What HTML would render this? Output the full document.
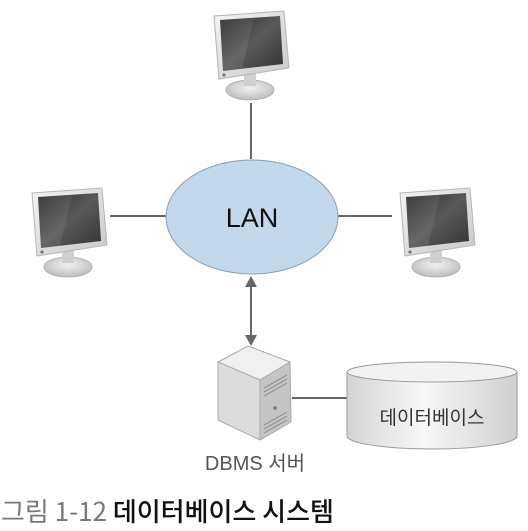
<!DOCTYPE html>
<html><head><meta charset="utf-8"><style>
html,body{margin:0;padding:0;background:#fff;}
svg{display:block}
</style></head><body>
<svg width="528" height="531" viewBox="0 0 528 531" xmlns="http://www.w3.org/2000/svg">
<defs>
<linearGradient id="scr" x1="0" y1="0" x2="1" y2="1">
<stop offset="0" stop-color="#2a2a2a"/><stop offset="0.5" stop-color="#5a5a5a"/><stop offset="1" stop-color="#333"/>
</linearGradient>
<linearGradient id="frm" x1="0" y1="0" x2="1" y2="1">
<stop offset="0" stop-color="#f4f4f4"/><stop offset="1" stop-color="#c8c8c8"/>
</linearGradient>
<radialGradient id="base" cx="0.5" cy="0.4" r="0.6">
<stop offset="0" stop-color="#f2f2f2"/><stop offset="1" stop-color="#bdbdbd"/>
</radialGradient>
<linearGradient id="cyl" x1="0" y1="0" x2="1" y2="0">
<stop offset="0" stop-color="#d4d4d4"/><stop offset="0.45" stop-color="#f8f8f8"/><stop offset="1" stop-color="#cfcfcf"/>
</linearGradient>
<g id="mon">
<ellipse cx="36" cy="80" rx="24" ry="10" fill="url(#base)" stroke="#aaa" stroke-width="0.8"/>
<rect x="30" y="64" width="12" height="12" fill="#d0d0d0"/>
<polygon points="0,6 70,1 75,58 5,69" fill="url(#frm)" stroke="#b5b5b5" stroke-width="1"/>
<polygon points="6,10 66,6 69,54 9,61" fill="url(#scr)"/>
<polygon points="6,10 40,8 28,59 9,61" fill="#fff" opacity="0.08"/>
<circle cx="10" cy="65" r="1.6" fill="#777"/>
</g>
</defs>

<line x1="251" y1="103" x2="251" y2="159" stroke="#666" stroke-width="2"/>
<line x1="110" y1="216" x2="166" y2="216" stroke="#666" stroke-width="2"/>
<line x1="338" y1="216" x2="392" y2="216" stroke="#666" stroke-width="2"/>
<line x1="251" y1="284" x2="251" y2="338" stroke="#666" stroke-width="2"/>
<polygon points="251,276 245,287 257,287" fill="#666"/>
<polygon points="251,346 245,335 257,335" fill="#666"/>
<line x1="292" y1="398" x2="348" y2="398" stroke="#666" stroke-width="2"/>

<ellipse cx="252" cy="217" rx="86" ry="57" fill="#c3d8ea" stroke="#8aa0b3" stroke-width="1"/>
<text x="252" y="227" text-anchor="middle" font-family="Liberation Sans, sans-serif" font-size="27" fill="#111">LAN</text>

<use href="#mon" x="214" y="10"/>
<use href="#mon" x="32" y="187"/>
<use href="#mon" x="400" y="187"/>

<polygon points="218,362 248,346 290,362 260,380" fill="#f0f0f0" stroke="#aaa"/>
<polygon points="218,362 260,380 260,440 218,420" fill="#dcdcdc" stroke="#aaa"/>
<polygon points="260,380 290,362 291,422 260,440" fill="#c4c4c4" stroke="#aaa"/>
<g stroke="#888" stroke-width="1">
<line x1="264" y1="388" x2="287" y2="375"/><line x1="264" y1="392" x2="287" y2="379"/>
<line x1="264" y1="396" x2="287" y2="383"/>
<line x1="264" y1="425" x2="287" y2="412"/><line x1="264" y1="429" x2="287" y2="416"/>
<line x1="264" y1="433" x2="287" y2="420"/>
</g>
<circle cx="275" cy="408" r="1.8" fill="#777"/>

<path d="M347,372 L347,436 A85,13 0 0 0 517,436 L517,372 Z" fill="url(#cyl)" stroke="#999"/>
<ellipse cx="432" cy="372" rx="85" ry="10" fill="#f2f2f2" stroke="#999"/>
<text x="432" y="424" text-anchor="middle" font-family="Liberation Sans, 'Noto Sans CJK KR', sans-serif" font-size="19" fill="#333">데이터베이스</text>

<text x="255" y="470" text-anchor="middle" font-family="Liberation Sans, 'Noto Sans CJK KR', sans-serif" font-size="20" fill="#555">DBMS 서버</text>

<text x="1" y="521" font-family="'Noto Sans CJK KR', sans-serif" font-size="26" fill="#777">그림 1-12 <tspan fill="#111" font-weight="500">데이터베이스 시스템</tspan></text>
</svg>
</body></html>
